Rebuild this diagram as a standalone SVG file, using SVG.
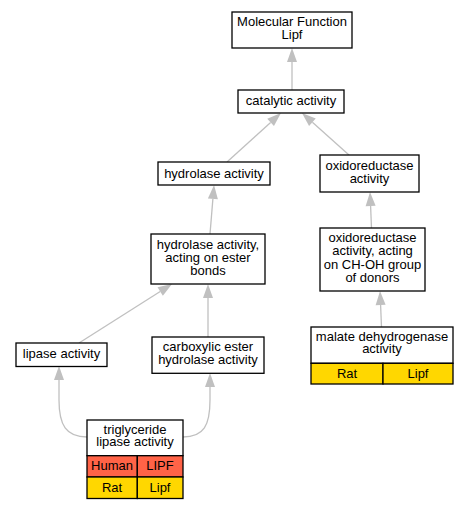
<svg xmlns="http://www.w3.org/2000/svg" width="468" height="509" viewBox="0 0 468 509">
<style>
.box{fill:#fff;stroke:#000;stroke-width:1.3}
.red{fill:#ff6347;stroke:#000;stroke-width:1.3}
.yel{fill:#ffd700;stroke:#000;stroke-width:1.3}
text{font-family:"Liberation Sans",Arial,sans-serif;font-size:13px;fill:#000;text-anchor:middle}
.e{fill:none;stroke:#c0c0c0;stroke-width:1.3}
</style>
<defs>
<marker id="ah" markerUnits="userSpaceOnUse" markerWidth="14" markerHeight="10" refX="0" refY="5" orient="auto" overflow="visible">
<path d="M0,0 L14,5 L0,10 z" fill="#c0c0c0"/>
</marker>
</defs>
<rect width="468" height="509" fill="#fff"/>
<g id="connectors">
<line class="e" x1="292" y1="90" x2="292" y2="62" marker-end="url(#ah)"/>
<line class="e" x1="227" y1="162" x2="270.6" y2="122.4" marker-end="url(#ah)"/>
<line class="e" x1="349" y1="155" x2="312.4" y2="122.3" marker-end="url(#ah)"/>
<line class="e" x1="210" y1="234" x2="212.9" y2="198.9" marker-end="url(#ah)"/>
<line class="e" x1="371.5" y1="228" x2="370.6" y2="206" marker-end="url(#ah)"/>
<line class="e" x1="381.5" y1="327" x2="380.6" y2="305" marker-end="url(#ah)"/>
<line class="e" x1="79" y1="343" x2="160.2" y2="291.5" marker-end="url(#ah)"/>
<line class="e" x1="208" y1="337" x2="208" y2="298" marker-end="url(#ah)"/>
<path class="e" d="M87,437 C66,437 59,425 59,400 L59,380" marker-end="url(#ah)"/>
<path class="e" d="M183,437 C204,437 210,425 210,400 L210,387" marker-end="url(#ah)"/>
</g>
<g id="molecular_function">
<rect class="box" x="232" y="12" width="120" height="36"/>
<text x="292" y="26.3">Molecular Function<tspan x="292" y="38.8">Lipf</tspan></text>
</g>
<g id="catalytic_activity">
<rect class="box" x="238" y="90" width="106" height="23"/>
<text x="291" y="105.2">catalytic activity</text>
</g>
<g id="hydrolase_activity">
<rect class="box" x="158" y="162" width="112" height="23"/>
<text x="214" y="177.5">hydrolase activity</text>
</g>
<g id="oxidoreductase_activity">
<rect class="box" x="320" y="155" width="99" height="37"/>
<text x="369.5" y="170">oxidoreductase<tspan x="369.5" y="183">activity</tspan></text>
</g>
<g id="hydrolase_ester">
<rect class="box" x="151" y="234" width="114" height="50"/>
<text x="208" y="249.3">hydrolase activity,<tspan x="208" y="262.2">acting on ester</tspan><tspan x="208" y="275">bonds</tspan></text>
</g>
<g id="oxidoreductase_choh">
<rect class="box" x="320" y="228" width="105" height="63"/>
<text x="372.5" y="241.8">oxidoreductase<tspan x="372.5" y="255.2">activity, acting</tspan><tspan x="372.5" y="268.6">on CH-OH group</tspan><tspan x="372.5" y="282">of donors</tspan></text>
</g>
<g id="malate_dehydrogenase">
<rect class="box" x="311" y="327" width="142" height="36.3"/>
<text x="382" y="340.7">malate dehydrogenase<tspan x="382" y="353.3">activity</tspan></text>
<rect class="yel" x="311" y="363.3" width="72" height="20.7"/>
<rect class="yel" x="383" y="363.3" width="70" height="20.7"/>
<text x="347" y="377.5">Rat</text>
<text x="418" y="377.5">Lipf</text>
</g>
<g id="lipase_activity">
<rect class="box" x="16" y="343" width="91" height="23.5"/>
<text x="61.5" y="357.8">lipase activity</text>
</g>
<g id="carboxylic_ester">
<rect class="box" x="152" y="337" width="112" height="36.3"/>
<text x="208" y="350.8">carboxylic ester<tspan x="208" y="364.3">hydrolase activity</tspan></text>
</g>
<g id="triglyceride_lipase">
<rect class="box" x="87" y="420" width="96" height="35.7"/>
<text x="135" y="433.5">triglyceride<tspan x="135" y="446.2">lipase activity</tspan></text>
<rect class="red" x="87" y="455.7" width="50.3" height="21.3"/>
<rect class="red" x="137.3" y="455.7" width="45.7" height="21.3"/>
<text x="112" y="470">Human</text>
<text x="160" y="470">LIPF</text>
<rect class="yel" x="87" y="477" width="50.3" height="21.5"/>
<rect class="yel" x="137.3" y="477" width="45.7" height="21.5"/>
<text x="112" y="491.5">Rat</text>
<text x="160" y="491.5">Lipf</text>
</g>
</svg>
